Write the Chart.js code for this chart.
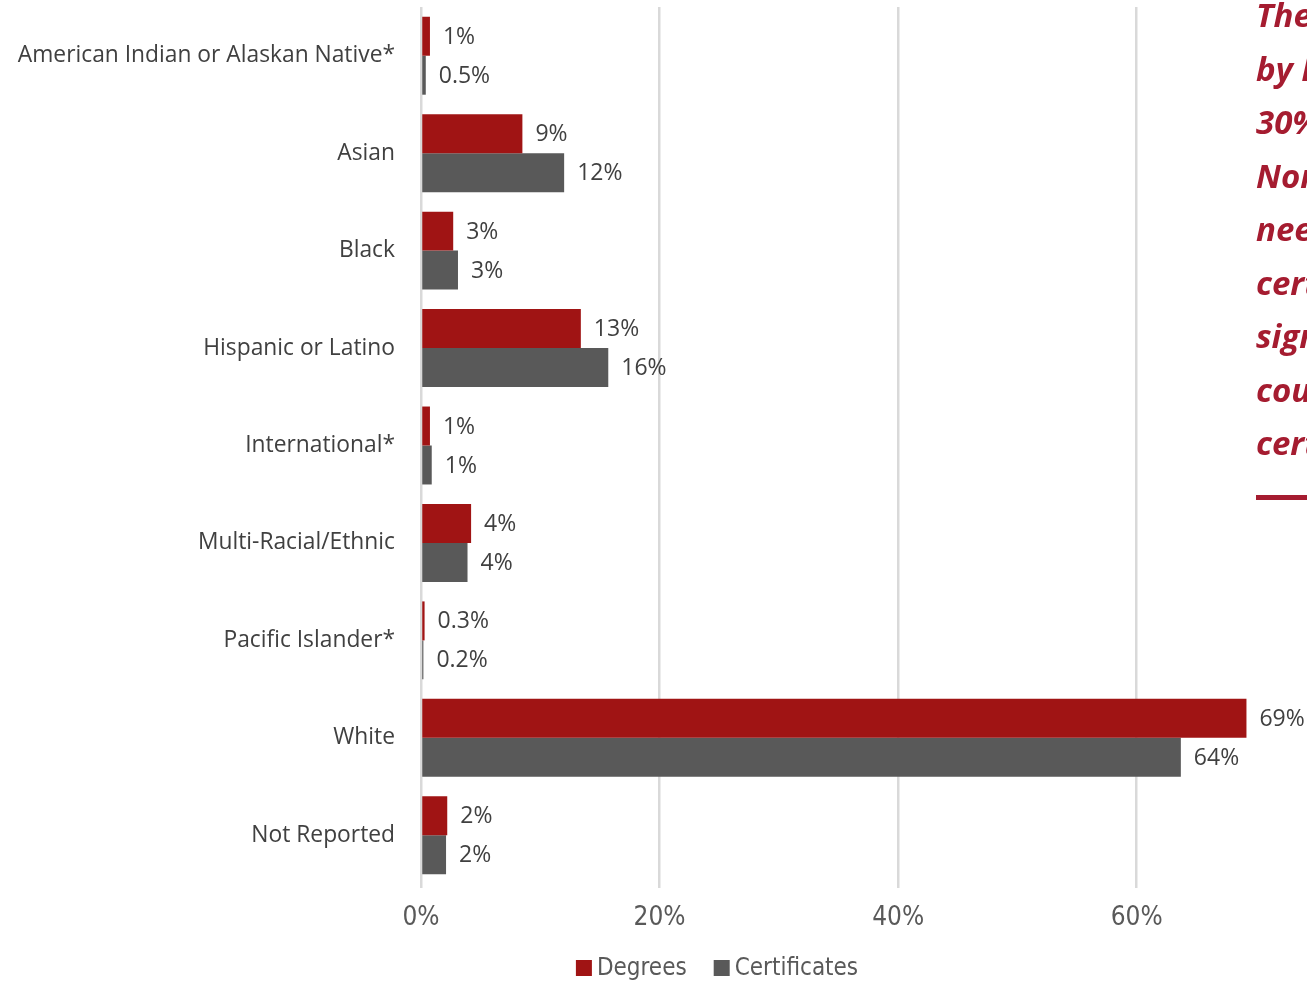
<!DOCTYPE html>
<html>
<head>
<meta charset="utf-8">
<script src="https://cdn.jsdelivr.net/npm/chart.js"></script>
<style>
  html, body { margin: 0; padding: 0; background: #ffffff; overflow: hidden; width: 1307px; height: 981px; }
  #wrap { position: absolute; left: 0; top: 0; width: 1434px; height: 981px; }
  #note { position: absolute; left: 1256px; top: -12px; white-space: nowrap;
          font-family: "Open Sans", sans-serif; font-weight: 700; font-style: italic;
          font-size: 33px; line-height: 53.5px; color: #a51c30; }
  #rule { position: absolute; left: 1256px; top: 495px; width: 200px; height: 5px; background: #a51c30; }
</style>
</head>
<body>
<div id="wrap"><canvas id="c"></canvas></div>
<div id="note">The share of credentials<br>by Race/Ethnicity shows<br>30% of awards went to<br>Non-White students, who<br>need short-term<br>certificates and<br>significantly benefit from<br>counseling toward<br>certificates.</div>
<div id="rule"></div>
<script>
const categories = ['American Indian or Alaskan Native*', 'Asian', 'Black', 'Hispanic or Latino',
  'International*', 'Multi-Racial/Ethnic', 'Pacific Islander*', 'White', 'Not Reported'];
const degrees = [0.75, 8.5, 2.7, 13.4, 0.75, 4.2, 0.3, 69.2, 2.2];
const certificates = [0.4, 12.0, 3.1, 15.7, 0.9, 3.9, 0.2, 63.7, 2.1];
const degreeLabels = ['1%', '9%', '3%', '13%', '1%', '4%', '0.3%', '69%', '2%'];
const certificateLabels = ['0.5%', '12%', '3%', '16%', '1%', '4%', '0.2%', '64%', '2%'];
const xTicks = [0, 20, 40, 60];

const valueLabels = {
  id: 'valueLabels',
  afterDatasetsDraw(chart) {
    const ctx = chart.ctx;
    ctx.save();
    ctx.font = '23px "Open Sans", sans-serif';
    ctx.fillStyle = '#404040';
    ctx.textAlign = 'left';
    ctx.textBaseline = 'middle';
    chart.data.datasets.forEach((ds, i) => {
      const meta = chart.getDatasetMeta(i);
      meta.data.forEach((bar, j) => {
        ctx.fillText(ds.valueText[j], bar.x + 13, bar.y + 1);
      });
    });
    ctx.restore();
  }
};

const customLegend = {
  id: 'customLegend',
  afterDraw(chart) {
    const ctx = chart.ctx;
    ctx.save();
    ctx.font = '24px "Liberation Sans Narrow", "DejaVu Sans Condensed", sans-serif';
    ctx.textBaseline = 'middle';
    const box = 16, gap = 5, itemGap = 27;
    const items = chart.data.datasets.map(ds => ({ text: ds.label, color: ds.backgroundColor,
      w: box + gap + ctx.measureText(ds.label).width }));
    const total = items.reduce((s, it) => s + it.w, 0) + itemGap * (items.length - 1);
    let x = chart.width / 2 - total / 2;
    const y = 968;
    items.forEach(it => {
      ctx.fillStyle = it.color;
      ctx.fillRect(x, y - box / 2, box, box);
      ctx.fillStyle = '#595959';
      ctx.textAlign = 'left';
      ctx.fillText(it.text, x + box + gap, y + 1);
      x += it.w + itemGap;
    });
    ctx.restore();
  }
};

new Chart(document.getElementById('c'), {
  type: 'bar',
  data: {
    labels: categories,
    datasets: [
      { label: 'Degrees', data: degrees, valueText: degreeLabels, backgroundColor: '#a01414',
        categoryPercentage: 0.8, barPercentage: 1.0 },
      { label: 'Certificates', data: certificates, valueText: certificateLabels, backgroundColor: '#595959',
        categoryPercentage: 0.8, barPercentage: 1.0 }
    ]
  },
  options: {
    indexAxis: 'y',
    responsive: true,
    maintainAspectRatio: false,
    animation: false,
    layout: { padding: { top: 7, right: 178, bottom: 37, left: 0 } },
    plugins: { legend: { display: false }, tooltip: { enabled: false } },
    scales: {
      x: {
        min: 0, max: 70,
        afterBuildTicks(axis) { axis.ticks = xTicks.map(v => ({ value: v })); },
        afterFit(scale) { scale.height = 60; scale.paddingLeft = 0; scale.paddingRight = 0; },
        grid: { color: '#d9d9d9', lineWidth: 2.5, drawTicks: true, tickLength: 4 },
        border: { display: false },
        ticks: {
          padding: 15,
          color: '#595959',
          font: { family: '"Liberation Sans Narrow", "DejaVu Sans Condensed", sans-serif', size: 26 },
          callback: v => v + '%'
        }
      },
      y: {
        afterFit(scale) { scale.width = 421; scale.paddingTop = 0; scale.paddingBottom = 0; },
        grid: { display: false, drawTicks: false },
        border: { display: false },
        ticks: {
          padding: 26,
          color: '#404040',
          font: { family: '"Open Sans", sans-serif', size: 22.8 }
        }
      }
    }
  },
  plugins: [valueLabels, customLegend]
});
</script>
</body>
</html>
